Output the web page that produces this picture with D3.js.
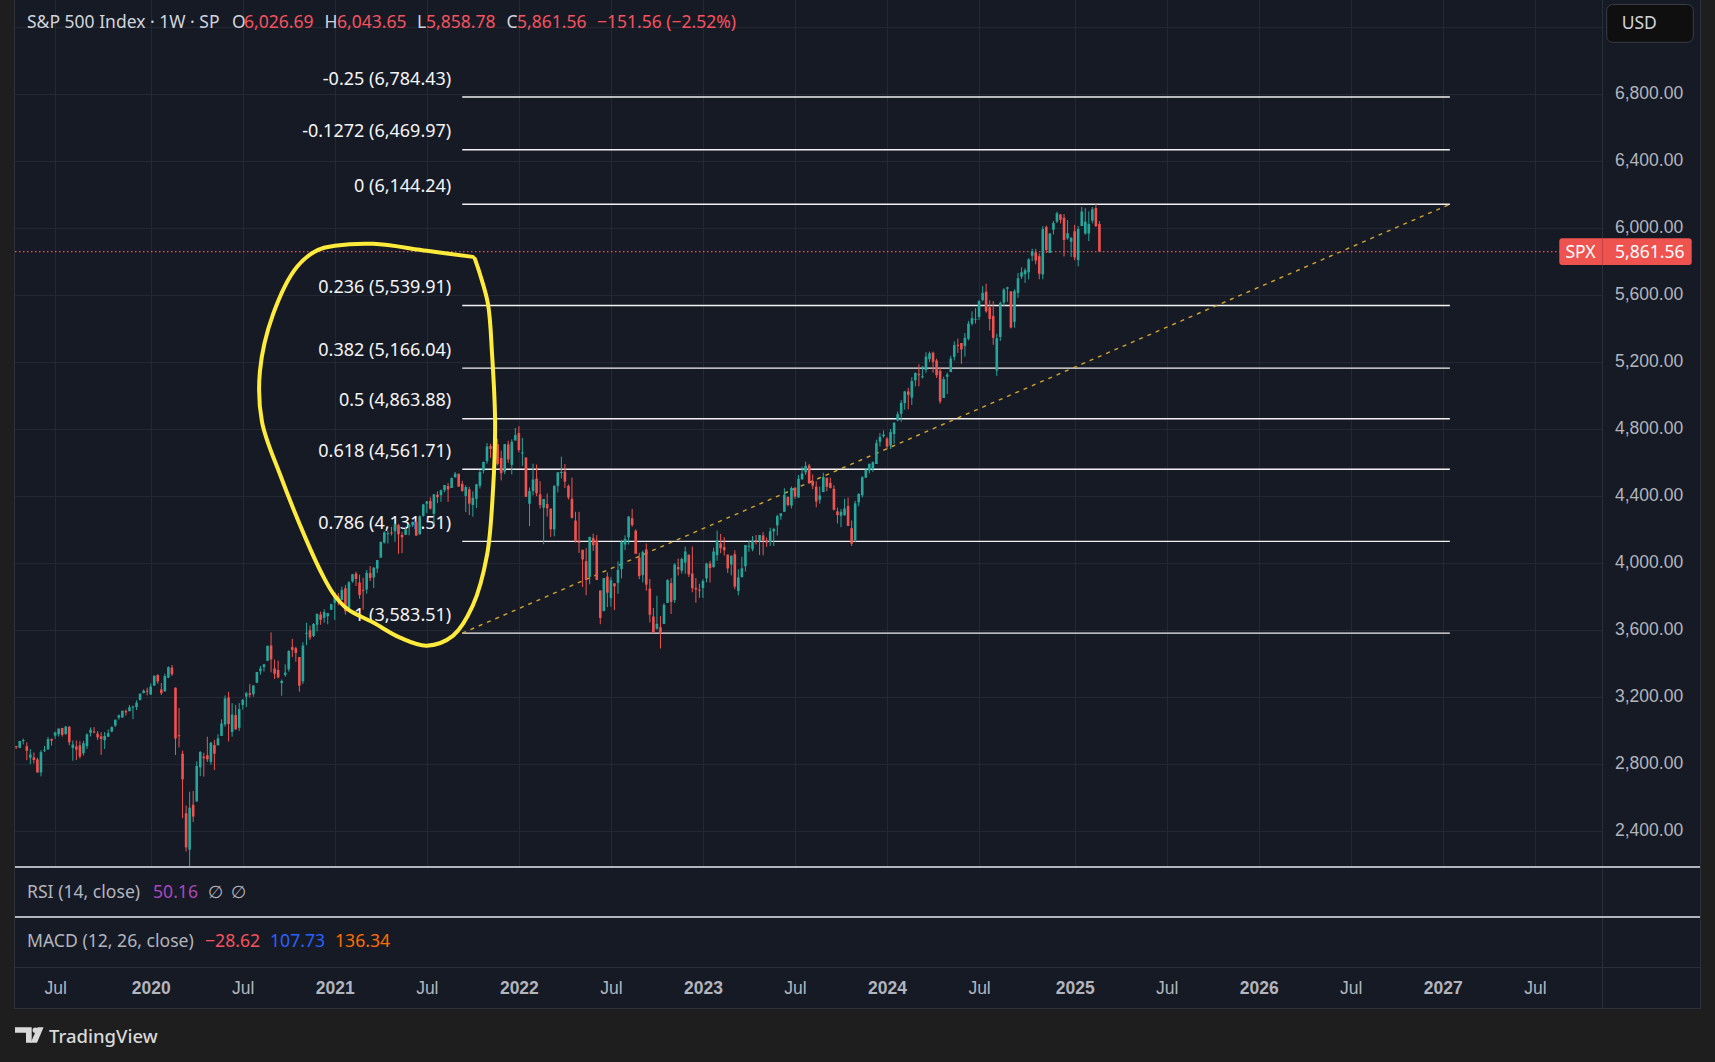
<!DOCTYPE html>
<html lang="en">

<head>
    <meta charset="UTF-8">
    <title>S&amp;P 500 Index · 1W · SP</title>
    <script src="https://d3js.org/d3.v7.min.js"></script>
    <style>
        body {
            margin: 0;
            background-color: #1e1e1e;
            overflow: hidden;
        }

        svg {
            display: block;
            font-family: "Noto Sans", "DejaVu Sans", sans-serif;
        }

        .axis text {
            fill: #b2b5be;
            font-size: 17.5px;
        }

        .axis .domain,
        .axis line {
            display: none;
        }

        .year {
            font-weight: 600;
        }

        .legend {
            font-size: 17.6px;
            fill: #b2b5be;
        }

        .head {
            font-size: 17.5px;
        }

        .fib-label {
            font-size: 18px;
            fill: #f5f5f5;
        }
    </style>
</head>

<body>
    <svg id="chart" width="1715" height="1062"></svg>

    <script>
        // Weekly candles, one row per week: [open, high, low, close]
        const firstWeek = "2019-04-15";

        const ohlc2019 = [
            [2908.3, 2910.5, 2891.9, 2905.03], [2898.8, 2936.3, 2896.4, 2939.88], [2940.6, 2954.1, 2919.4, 2945.64],
            [2908.9, 2931.7, 2825.4, 2881.40], [2840.2, 2891.3, 2801.4, 2859.53], [2841.9, 2871.6, 2805.5, 2826.06],
            [2830.0, 2840.5, 2750.5, 2752.06], [2751.5, 2884.9, 2728.8, 2873.34], [2885.8, 2910.6, 2873.9, 2886.98],
            [2889.8, 2964.2, 2887.3, 2950.46], [2951.4, 2954.9, 2912.3, 2941.76], [2971.4, 2995.8, 2952.2, 2990.41],
            [2980.8, 3013.9, 2966.4, 3013.77], [3017.8, 3017.8, 2966.0, 2976.61], [2981.9, 3028.0, 2976.7, 3025.86],
            [3024.5, 3029.4, 2914.1, 2932.05], [2898.1, 2943.3, 2822.1, 2918.65], [2907.1, 2943.3, 2825.7, 2888.68],
            [2913.5, 2939.1, 2835.0, 2847.11], [2866.7, 2940.4, 2853.1, 2926.46], [2909.0, 2985.9, 2891.9, 2978.71],
            [2988.4, 3021.0, 2966.9, 3007.39], [2996.4, 3022.7, 2985.9, 2992.07], [2983.5, 2999.2, 2945.5, 2961.79],
            [2967.1, 2992.5, 2855.9, 2952.01], [2944.2, 2993.3, 2892.6, 2970.27], [2965.8, 3008.3, 2962.9, 2986.20],
            [2996.5, 3027.4, 2991.2, 3022.55], [3032.1, 3066.9, 3023.2, 3066.91], [3079.0, 3097.8, 3066.9, 3093.08],
            [3080.3, 3120.5, 3078.3, 3120.46], [3117.9, 3127.6, 3091.4, 3110.29], [3117.4, 3154.3, 3117.4, 3140.98],
            [3143.9, 3150.6, 3070.3, 3145.91], [3141.9, 3182.7, 3124.0, 3168.80], [3183.6, 3225.6, 3183.6, 3221.22],
            [3226.1, 3247.9, 3223.3, 3240.02], [3240.1, 3258.1, 3212.0, 3234.85]
        ];

        const ohlc2020 = [
            [3217.6, 3283.0, 3214.6, 3265.35], [3271.1, 3329.9, 3268.4, 3329.62], [3333.1, 3337.8, 3281.5, 3295.47],
            [3247.2, 3285.9, 3214.6, 3225.52], [3235.7, 3341.4, 3235.7, 3327.71], [3318.3, 3385.1, 3315.2, 3380.16],
            [3378.1, 3393.5, 3328.5, 3337.75], [3257.6, 3259.8, 2855.8, 2954.22], [2974.3, 3136.7, 2901.5, 2972.37],
            [2863.9, 2882.6, 2478.9, 2711.02], [2508.6, 2553.9, 2280.5, 2304.92], [2291.0, 2637.0, 2191.9, 2541.47],
            [2559.0, 2641.4, 2455.8, 2488.65], [2578.3, 2818.6, 2578.3, 2789.82], [2782.5, 2879.2, 2729.6, 2874.56],
            [2845.6, 2869.0, 2727.1, 2836.74], [2854.7, 2965.0, 2815.0, 2830.71], [2815.0, 2934.3, 2797.9, 2929.80],
            [2915.5, 2945.8, 2766.6, 2863.70], [2913.9, 2980.3, 2913.9, 2955.45], [2970.0, 3068.7, 2970.0, 3044.31],
            [3038.8, 3211.7, 3025.8, 3193.93], [3199.9, 3233.1, 2936.9, 3041.31], [2993.8, 3165.8, 2965.7, 3097.74],
            [3094.4, 3155.5, 3007.4, 3009.05], [3018.6, 3165.8, 2999.5, 3130.01], [3155.3, 3190.8, 3127.7, 3185.04],
            [3205.1, 3233.5, 3141.9, 3224.73], [3224.3, 3279.3, 3200.1, 3215.63], [3219.8, 3272.0, 3204.1, 3271.12],
            [3288.3, 3352.5, 3284.5, 3351.28], [3356.0, 3387.9, 3335.5, 3372.85], [3380.9, 3400.0, 3354.7, 3397.16],
            [3418.1, 3509.2, 3418.1, 3508.01], [3509.7, 3588.1, 3349.6, 3426.96], [3371.9, 3425.6, 3310.0, 3340.97],
            [3363.6, 3419.5, 3313.6, 3319.47], [3285.6, 3306.9, 3209.5, 3298.46], [3333.9, 3397.2, 3323.7, 3348.44],
            [3367.3, 3482.3, 3354.5, 3477.13], [3500.0, 3549.9, 3440.5, 3483.81], [3493.5, 3502.4, 3413.0, 3465.39],
            [3441.4, 3441.4, 3233.9, 3269.96], [3296.2, 3529.0, 3279.7, 3509.44], [3583.0, 3646.0, 3511.9, 3585.15],
            [3600.2, 3628.5, 3543.8, 3557.54], [3566.8, 3644.3, 3559.9, 3638.35], [3634.2, 3699.2, 3594.4, 3699.12],
            [3694.7, 3712.4, 3633.4, 3663.46], [3675.3, 3726.7, 3645.8, 3709.41], [3684.3, 3702.9, 3636.5, 3703.06],
            [3723.0, 3760.2, 3723.0, 3756.07]
        ];

        const ohlc2021 = [
            [3764.6, 3826.7, 3662.7, 3824.68], [3803.1, 3823.6, 3749.6, 3768.25], [3781.9, 3861.5, 3781.9, 3841.47],
            [3851.7, 3870.9, 3694.1, 3714.24], [3731.2, 3894.6, 3725.6, 3886.83], [3892.6, 3937.0, 3884.9, 3934.83],
            [3939.6, 3950.4, 3865.7, 3906.71], [3885.6, 3933.2, 3789.5, 3811.15], [3842.5, 3914.5, 3723.3, 3841.94],
            [3844.4, 3960.3, 3819.3, 3943.34], [3943.0, 3983.9, 3894.9, 3913.10], [3916.5, 3978.2, 3853.5, 3974.54],
            [3969.3, 4020.6, 3943.6, 4019.87], [4034.4, 4129.5, 4034.4, 4128.80], [4124.7, 4191.3, 4118.4, 4185.47],
            [4179.8, 4194.2, 4118.4, 4180.17], [4185.0, 4218.8, 4166.8, 4181.17], [4192.0, 4238.0, 4128.6, 4232.60],
            [4228.3, 4236.4, 4056.9, 4173.85], [4169.9, 4188.7, 4061.4, 4155.86], [4170.2, 4218.4, 4170.2, 4204.11],
            [4216.5, 4234.1, 4167.6, 4229.89], [4229.3, 4249.7, 4217.0, 4247.44], [4248.3, 4261.1, 4164.4, 4166.45],
            [4173.4, 4286.1, 4173.4, 4280.70], [4284.9, 4355.4, 4278.8, 4352.34], [4356.5, 4372.9, 4300.7, 4369.55],
            [4372.4, 4393.7, 4321.1, 4327.16], [4296.4, 4415.2, 4233.1, 4411.79], [4409.6, 4430.0, 4360.0, 4395.26],
            [4406.9, 4440.8, 4367.7, 4436.52], [4437.8, 4468.0, 4424.7, 4468.00], [4461.7, 4480.3, 4367.7, 4441.67],
            [4450.3, 4513.3, 4450.3, 4509.37], [4513.8, 4545.9, 4513.8, 4535.43], [4535.4, 4535.4, 4457.7, 4458.58],
            [4474.8, 4492.8, 4427.8, 4432.99], [4403.0, 4465.4, 4305.9, 4455.48], [4442.1, 4457.3, 4288.5, 4357.04],
            [4348.8, 4430.0, 4278.9, 4391.34], [4385.4, 4475.8, 4329.9, 4471.37], [4463.7, 4559.7, 4447.5, 4544.90],
            [4553.7, 4608.1, 4537.4, 4605.38], [4610.6, 4718.5, 4595.1, 4697.53], [4701.5, 4714.9, 4630.9, 4682.85],
            [4689.3, 4717.7, 4672.8, 4697.96], [4712.0, 4743.8, 4585.4, 4594.62], [4628.8, 4673.0, 4495.1, 4538.43],
            [4548.4, 4713.6, 4532.4, 4712.02], [4710.3, 4732.0, 4600.2, 4620.64], [4587.9, 4740.7, 4531.1, 4725.79],
            [4734.0, 4808.9, 4734.0, 4766.18]
        ];

        const ohlc2022 = [
            [4778.1, 4818.6, 4662.7, 4677.03], [4655.3, 4749.0, 4582.2, 4662.85], [4632.2, 4632.2, 4395.3, 4397.94],
            [4356.3, 4453.2, 4222.6, 4431.85], [4431.8, 4595.3, 4405.8, 4500.53], [4505.8, 4590.0, 4401.4, 4418.64],
            [4412.6, 4490.4, 4327.2, 4348.87], [4332.7, 4385.0, 4114.7, 4384.65], [4354.2, 4416.8, 4279.5, 4328.87],
            [4327.0, 4327.0, 4157.9, 4204.31], [4202.8, 4465.4, 4161.7, 4463.12], [4462.4, 4546.0, 4424.3, 4543.06],
            [4541.1, 4637.3, 4507.6, 4545.86], [4548.0, 4593.5, 4450.3, 4488.28], [4462.6, 4471.0, 4381.3, 4392.59],
            [4385.6, 4512.9, 4267.6, 4271.78], [4255.3, 4308.5, 4124.3, 4131.93], [4130.6, 4307.7, 4062.5, 4123.34],
            [4081.3, 4081.3, 3858.9, 4023.89], [4013.0, 4090.7, 3810.3, 3901.36], [3919.4, 4158.5, 3875.1, 4158.24],
            [4151.1, 4177.5, 4074.4, 4108.54], [4134.7, 4168.8, 3900.2, 3900.86], [3838.2, 3838.2, 3636.9, 3674.84],
            [3715.3, 3913.7, 3715.3, 3911.74], [3920.8, 3945.9, 3738.7, 3825.33], [3792.6, 3918.5, 3742.1, 3899.38],
            [3880.9, 3880.9, 3721.6, 3863.16], [3883.8, 4012.4, 3818.6, 3961.63], [3965.7, 4140.2, 3910.7, 4130.29],
            [4112.4, 4167.7, 4079.8, 4145.19], [4155.9, 4280.5, 4112.1, 4280.15], [4269.4, 4325.3, 4218.7, 4228.48],
            [4195.1, 4203.0, 4057.4, 4057.66], [4034.6, 4063.0, 3906.0, 3924.26], [3930.9, 4076.8, 3886.8, 4067.36],
            [4083.7, 4119.3, 3837.1, 3873.33], [3849.9, 3907.1, 3647.5, 3693.23], [3682.7, 3733.3, 3584.1, 3585.62],
            [3609.8, 3806.9, 3604.9, 3639.66], [3619.2, 3685.4, 3491.6, 3583.07], [3638.7, 3762.8, 3638.7, 3752.75],
            [3764.1, 3905.4, 3764.1, 3901.06], [3881.9, 3911.8, 3698.2, 3770.55], [3780.7, 4001.5, 3764.5, 3992.93],
            [3978.0, 4028.8, 3928.4, 3965.34], [3956.2, 4034.0, 3938.7, 4026.12], [4005.4, 4100.5, 3938.6, 4071.70],
            [4052.0, 4052.5, 3918.4, 3934.38], [3939.3, 4101.0, 3827.9, 3852.36], [3853.8, 3912.6, 3764.5, 3844.82],
            [3843.3, 3878.4, 3794.3, 3839.50]
        ];

        const ohlc2023 = [
            [3853.3, 3906.0, 3794.3, 3895.08], [3910.8, 4004.0, 3887.6, 3999.09], [3999.3, 4015.4, 3885.5, 3972.61],
            [3978.1, 4094.2, 3973.6, 4070.56], [4049.3, 4195.4, 4015.6, 4136.48], [4119.6, 4176.5, 4060.8, 4090.46],
            [4096.6, 4156.0, 4047.0, 4079.09], [4052.4, 4052.4, 3943.1, 3970.04], [3992.4, 4048.3, 3928.2, 4045.64],
            [4055.2, 4078.5, 3846.3, 3861.59], [3835.1, 3964.5, 3808.9, 3916.64], [3917.5, 4039.5, 3917.5, 3970.99],
            [3982.9, 4110.8, 3951.5, 4109.31], [4102.2, 4133.1, 4069.8, 4105.02], [4085.2, 4163.2, 4072.5, 4137.64],
            [4137.2, 4169.5, 4113.2, 4133.52], [4132.1, 4170.1, 4049.4, 4169.48], [4166.8, 4186.9, 4048.3, 4136.25],
            [4137.0, 4154.3, 4098.9, 4124.08], [4126.6, 4212.9, 4104.0, 4191.98], [4190.8, 4212.2, 4104.0, 4205.45],
            [4226.7, 4290.7, 4166.2, 4282.37], [4283.0, 4298.0, 4260.2, 4298.86], [4308.3, 4448.5, 4308.3, 4409.59],
            [4396.1, 4400.2, 4341.3, 4348.33], [4344.8, 4458.5, 4328.1, 4450.38], [4450.5, 4456.5, 4385.1, 4398.95],
            [4394.2, 4527.8, 4389.9, 4505.42], [4502.4, 4578.4, 4498.6, 4536.34], [4543.4, 4607.1, 4528.6, 4582.23],
            [4584.8, 4594.2, 4474.6, 4478.03], [4491.6, 4531.0, 4443.2, 4464.05], [4458.1, 4490.3, 4335.3, 4369.71],
            [4380.3, 4458.3, 4356.3, 4405.71], [4426.0, 4541.3, 4426.0, 4515.77], [4510.1, 4514.3, 4430.5, 4457.49],
            [4481.0, 4512.0, 4447.2, 4450.32], [4445.4, 4466.4, 4316.5, 4320.06], [4310.6, 4333.2, 4238.6, 4288.05],
            [4284.5, 4324.1, 4216.5, 4308.50], [4289.0, 4385.5, 4283.8, 4327.78], [4342.4, 4393.6, 4223.0, 4224.16],
            [4210.4, 4255.8, 4103.8, 4117.37], [4139.4, 4374.0, 4126.3, 4358.34], [4364.3, 4418.0, 4341.3, 4415.24],
            [4406.7, 4521.2, 4393.4, 4514.02], [4511.7, 4568.4, 4510.4, 4559.34], [4554.9, 4595.1, 4537.2, 4594.63],
            [4564.4, 4609.2, 4546.5, 4604.37], [4593.4, 4738.6, 4593.4, 4719.19], [4725.6, 4778.0, 4697.8, 4754.63],
            [4758.9, 4793.3, 4751.0, 4769.83]
        ];

        const ohlc2024 = [
            [4745.2, 4754.3, 4682.1, 4697.24], [4703.7, 4802.4, 4682.8, 4783.83], [4772.4, 4842.1, 4714.8, 4839.81],
            [4853.4, 4906.7, 4848.7, 4890.97], [4893.0, 4975.3, 4845.2, 4958.61], [4957.2, 5030.1, 4918.1, 5026.61],
            [5026.8, 5048.4, 4920.3, 5005.57], [4989.3, 5111.1, 4946.0, 5088.80], [5093.0, 5140.3, 5057.3, 5137.08],
            [5131.0, 5189.3, 5057.2, 5123.69], [5112.0, 5179.1, 5104.4, 5117.09], [5154.8, 5261.1, 5138.7, 5234.18],
            [5219.5, 5264.9, 5203.4, 5254.35], [5258.0, 5264.0, 5138.7, 5204.34], [5211.4, 5222.2, 5107.9, 5123.41],
            [5149.7, 5168.4, 4953.6, 4967.23], [4987.3, 5114.6, 4987.3, 5099.96], [5114.1, 5139.1, 5011.1, 5127.79],
            [5142.4, 5239.7, 5142.4, 5222.68], [5233.1, 5325.5, 5211.2, 5303.27], [5305.4, 5341.9, 5256.9, 5304.72],
            [5315.9, 5315.9, 5191.7, 5277.51], [5297.2, 5375.1, 5234.3, 5346.99], [5341.2, 5447.3, 5331.5, 5431.60],
            [5431.1, 5505.5, 5420.6, 5464.62], [5459.6, 5523.6, 5432.2, 5460.48], [5471.1, 5570.3, 5452.7, 5567.19],
            [5572.8, 5655.6, 5563.7, 5615.35], [5621.9, 5669.7, 5497.0, 5505.00], [5528.9, 5570.7, 5391.0, 5459.10],
            [5476.6, 5566.2, 5305.1, 5346.56], [5151.1, 5370.7, 5119.3, 5344.16], [5351.9, 5563.1, 5327.9, 5554.25],
            [5557.2, 5643.2, 5535.5, 5634.61], [5639.7, 5651.6, 5561.0, 5648.40], [5623.9, 5623.9, 5402.6, 5408.42],
            [5442.1, 5636.3, 5407.0, 5626.02], [5615.2, 5733.6, 5585.4, 5702.55], [5711.9, 5767.4, 5698.4, 5738.17],
            [5726.5, 5762.4, 5674.0, 5751.07], [5737.8, 5822.1, 5695.7, 5815.03], [5836.6, 5878.5, 5804.5, 5864.67],
            [5857.8, 5878.0, 5784.9, 5808.12], [5833.9, 5850.9, 5696.5, 5728.80], [5725.2, 6012.5, 5696.5, 5995.54],
            [6008.9, 6017.3, 5853.0, 5870.62], [5853.0, 5972.9, 5853.0, 5969.34], [5992.3, 6044.2, 5963.9, 6032.38],
            [6040.1, 6100.0, 6031.6, 6090.27], [6083.0, 6085.2, 6029.9, 6051.09], [6063.8, 6085.2, 5832.3, 5930.85],
            [5940.3, 6049.8, 5932.9, 5970.84], [5920.7, 5949.3, 5829.5, 5942.47]
        ];

        const ohlc2025 = [
            [5982.8, 6021.0, 5809.6, 5827.04], [5811.3, 6014.0, 5773.3, 5996.66], [6014.1, 6128.2, 6014.1, 6101.24],
            [5969.0, 6120.9, 5962.9, 6040.53], [5969.7, 6101.3, 5923.9, 6025.99], [6046.4, 6127.5, 6029.9, 6114.63],
            [6121.6, 6147.4, 6008.6, 6013.13], [6026.69, 6043.65, 5858.78, 5861.56]
        ];

        // Price axis and time axis labels
        const priceTicks = [2400, 2800, 3200, 3600, 4000, 4400, 4800, 5200, 5600, 6000, 6400, 6800];
        const gridPrices = [2400, 2800, 3200, 3600, 4000, 4400, 4800, 5200, 5600, 6000, 6400, 6800, 7200];
        const timeTicks = [
            ["2019-07", "Jul"], ["2020-01", "2020"], ["2020-07", "Jul"], ["2021-01", "2021"], ["2021-07", "Jul"],
            ["2022-01", "2022"], ["2022-07", "Jul"], ["2023-01", "2023"], ["2023-07", "Jul"], ["2024-01", "2024"],
            ["2024-07", "Jul"], ["2025-01", "2025"], ["2025-07", "Jul"], ["2026-01", "2026"], ["2026-07", "Jul"],
            ["2027-01", "2027"], ["2027-07", "Jul"]
        ];

        // Fibonacci retracement drawn from the 2022 low to the projected top
        const fibLevels = ["-0.25", "-0.1272", "0", "0.236", "0.382", "0.5", "0.618", "0.786", "1"];
        const fibPrices = [6784.43, 6469.97, 6144.24, 5539.91, 5166.04, 4863.88, 4561.71, 4131.51, 3583.51];
        const fibFrom = ["2021-09-13", 3583.51];
        const fibTo = ["2027-01-18", 6144.24];

        // Hand-drawn yellow loop, in [date, price]
        const loopMarks = [
            ["2021-10-04", 5830], ["2021-07-05", 5866], ["2021-03-21", 5908], ["2021-01-04", 5896],
            ["2020-12-02", 5872], ["2020-10-21", 5770], ["2020-09-04", 5488], ["2020-08-09", 5147],
            ["2020-08-13", 4847], ["2020-09-18", 4529], ["2020-11-08", 4145], ["2020-12-10", 3935],
            ["2021-01-02", 3815], ["2021-01-30", 3725], ["2021-03-21", 3647], ["2021-05-13", 3557],
            ["2021-07-05", 3509], ["2021-08-26", 3569], ["2021-10-04", 3749], ["2021-11-01", 4049],
            ["2021-11-13", 4445], ["2021-11-17", 4847], ["2021-11-11", 5249], ["2021-11-03", 5548],
            ["2021-10-18", 5728], ["2021-10-08", 5818]
        ];

        const lastPrice = 5861.56;

        // ---------------------------------------------------------------

        const parseDay = d3.utcParse("%Y-%m-%d");
        const parseMonth = d3.utcParse("%Y-%m");

        const rows = [].concat(ohlc2019, ohlc2020, ohlc2021, ohlc2022, ohlc2023, ohlc2024, ohlc2025);
        const start = parseDay(firstWeek);
        const candles = rows.map((r, i) => ({
            date: d3.utcMonday.offset(start, i),
            open: r[0], high: r[1], low: r[2], close: r[3]
        }));

        const svg = d3.select("#chart");

        const pane = { left: 15, right: 1602, top: 0, bottom: 867 },
            frameRight = 1700,
            frameBottom = 1008,
            rsiTop = 867,
            macdTop = 917,
            timeTop = 967;

        const up = "#26a69a", down = "#ef5350";

        // Weekly bars are evenly spaced; one bar = 3.54px
        const x = d3.scaleUtc()
            .domain([Date.UTC(2020, 0, 6), Date.UTC(2027, 0, 18)])
            .range([150.7, 1449.9]);

        const y = d3.scaleLinear()
            .domain([2187.5, 7363.6])
            .range([pane.bottom, pane.top]);

        // Chart background
        svg.append("rect")
            .attr("x", pane.left).attr("y", 0)
            .attr("width", frameRight - pane.left).attr("height", frameBottom)
            .attr("fill", "#161a25");

        svg.append("defs").append("clipPath").attr("id", "paneClip")
            .append("rect")
            .attr("x", pane.left).attr("y", pane.top)
            .attr("width", pane.right - pane.left).attr("height", pane.bottom - pane.top);

        // Grid
        const grid = svg.append("g").attr("stroke", "#242835").attr("stroke-width", 1);
        grid.selectAll(".hgrid")
            .data(gridPrices)
            .enter().append("line")
            .attr("x1", pane.left).attr("x2", pane.right)
            .attr("y1", d => Math.round(y(d)) + 0.5).attr("y2", d => Math.round(y(d)) + 0.5);

        const tickDates = timeTicks.map(t => d3.utcMonday.ceil(parseMonth(t[0])));
        grid.selectAll(".vgrid")
            .data(tickDates)
            .enter().append("line")
            .attr("x1", d => Math.round(x(d)) + 0.5).attr("x2", d => Math.round(x(d)) + 0.5)
            .attr("y1", pane.top).attr("y2", pane.bottom);

        const plot = svg.append("g").attr("clip-path", "url(#paneClip)");

        // Fibonacci levels
        const fibX1 = x(parseDay(fibFrom[0])), fibX2 = x(parseDay(fibTo[0]));
        plot.append("g")
            .selectAll("line")
            .data(fibPrices)
            .enter().append("line")
            .attr("x1", fibX1).attr("x2", fibX2)
            .attr("y1", d => y(d)).attr("y2", d => y(d))
            .attr("stroke", "#f2f2f2")
            .attr("stroke-width", 1.4);

        plot.append("line")
            .attr("x1", fibX1).attr("y1", y(fibFrom[1]))
            .attr("x2", fibX2).attr("y2", y(fibTo[1]))
            .attr("stroke", "#d2a62e")
            .attr("stroke-width", 1.4)
            .attr("stroke-dasharray", "4,5");

        plot.append("g")
            .selectAll("text")
            .data(fibPrices)
            .enter().append("text")
            .attr("class", "fib-label")
            .attr("x", fibX1 - 11)
            .attr("y", d => y(d) - 12.5)
            .attr("text-anchor", "end")
            .text((d, i) => `${fibLevels[i]} (${d3.format(",.2f")(d)})`);

        // Last price line
        plot.append("line")
            .attr("x1", pane.left).attr("x2", pane.right)
            .attr("y1", y(lastPrice)).attr("y2", y(lastPrice))
            .attr("stroke", "#ef5350")
            .attr("stroke-width", 1.2)
            .attr("stroke-dasharray", "1.5,2.5");

        // Candles
        const bodyW = 2.6;
        const bars = plot.append("g")
            .selectAll("g")
            .data(candles)
            .enter().append("g")
            .attr("fill", d => d.close >= d.open ? up : down)
            .attr("stroke", d => d.close >= d.open ? up : down);

        bars.append("line")
            .attr("x1", d => x(d.date)).attr("x2", d => x(d.date))
            .attr("y1", d => y(d.high)).attr("y2", d => y(d.low))
            .attr("stroke-width", 1);

        bars.append("rect")
            .attr("x", d => x(d.date) - bodyW / 2)
            .attr("width", bodyW)
            .attr("y", d => y(Math.max(d.open, d.close)))
            .attr("height", d => Math.max(1, Math.abs(y(d.open) - y(d.close))))
            .attr("stroke", "none");

        // Yellow loop annotation
        plot.append("path")
            .datum(loopMarks)
            .attr("d", d3.line()
                .x(d => x(parseDay(d[0])))
                .y(d => y(d[1]))
                .curve(d3.curveCatmullRom.alpha(0.5)))
            .attr("fill", "none")
            .attr("stroke", "#ffeb3b")
            .attr("stroke-width", 4)
            .attr("stroke-linecap", "round")
            .attr("stroke-linejoin", "round");

        // Pane separators and borders
        svg.append("line")
            .attr("x1", pane.right + 0.5).attr("x2", pane.right + 0.5)
            .attr("y1", 0).attr("y2", frameBottom)
            .attr("stroke", "#2a2e39");
        svg.append("line")
            .attr("x1", pane.left).attr("x2", frameRight)
            .attr("y1", timeTop + 0.5).attr("y2", timeTop + 0.5)
            .attr("stroke", "#2a2e39");
        [rsiTop, macdTop].forEach(t => {
            svg.append("line")
                .attr("x1", pane.left).attr("x2", frameRight)
                .attr("y1", t).attr("y2", t)
                .attr("stroke", "#e6e8ee")
                .attr("stroke-width", 1.5);
        });
        svg.append("rect")
            .attr("x", pane.left - 0.5).attr("y", -1)
            .attr("width", frameRight - pane.left + 1).attr("height", frameBottom + 1.5)
            .attr("fill", "none")
            .attr("stroke", "#2e313a");

        // Price axis
        svg.append("g")
            .attr("class", "axis")
            .attr("transform", `translate(${pane.right},0)`)
            .call(d3.axisRight(y)
                .tickValues(priceTicks)
                .tickFormat(d3.format(",.2f"))
                .tickSize(0)
                .tickPadding(13))
            .selectAll("text")
            .attr("y", -2);

        // Time axis
        svg.append("g")
            .attr("class", "axis")
            .attr("transform", `translate(0,${timeTop})`)
            .call(d3.axisBottom(x)
                .tickValues(tickDates)
                .tickFormat((d, i) => timeTicks[i][1])
                .tickSize(0)
                .tickPadding(15))
            .selectAll("text")
            .classed("year", (d, i) => timeTicks[i][1] !== "Jul");

        // Last price tag
        const tagY = y(lastPrice);
        svg.append("rect")
            .attr("x", 1559.3).attr("y", tagY - 13.4)
            .attr("width", 132.4).attr("height", 26.8)
            .attr("rx", 3)
            .attr("fill", "#ef5350");
        svg.append("line")
            .attr("x1", pane.right + 0.5).attr("x2", pane.right + 0.5)
            .attr("y1", tagY - 13.4).attr("y2", tagY + 13.4)
            .attr("stroke", "#c63f3f");
        svg.append("text")
            .attr("x", 1580.5).attr("y", tagY + 6.3)
            .attr("text-anchor", "middle")
            .attr("fill", "#ffffff")
            .style("font-size", "17.5px")
            .text("SPX");
        svg.append("text")
            .attr("x", 1615).attr("y", tagY + 6.3)
            .attr("fill", "#ffffff")
            .style("font-size", "17.5px")
            .text(d3.format(",.2f")(lastPrice));

        // Currency button
        svg.append("rect")
            .attr("x", 1606.7).attr("y", 4.5)
            .attr("width", 86.6).attr("height", 37.8)
            .attr("rx", 6)
            .attr("fill", "#0f0f10")
            .attr("stroke", "#3a3d46");
        svg.append("text")
            .attr("x", 1621.7).attr("y", 29)
            .attr("fill", "#d1d4dc")
            .style("font-size", "17.5px")
            .text("USD");

        // Header legend
        const head = svg.append("g").attr("class", "legend head");
        const red = "#f7525f";
        const headParts = [
            [27, "S&P 500 Index · 1W · SP", "#d1d4dc"],
            [232, "O", "#d1d4dc"], [244, "6,026.69", red],
            [324.5, "H", "#d1d4dc"], [337, "6,043.65", red],
            [417, "L", "#d1d4dc"], [426, "5,858.78", red],
            [506.6, "C", "#d1d4dc"], [517, "5,861.56", red],
            [597, "−151.56 (−2.52%)", red]
        ];
        head.selectAll("text")
            .data(headParts)
            .enter().append("text")
            .attr("x", d => d[0]).attr("y", 27.7)
            .attr("fill", d => d[2])
            .text(d => d[1]);

        // Indicator pane legends
        const paneParts = [
            [27, 897.7, "RSI (14, close)", "#b2b5be"], [153, 897.7, "50.16", "#ab47bc"],
            [208, 897.7, "∅", "#b2b5be"], [231, 897.7, "∅", "#b2b5be"],
            [27, 946.7, "MACD (12, 26, close)", "#b2b5be"], [205, 946.7, "−28.62", "#f7525f"],
            [270, 946.7, "107.73", "#2962ff"], [335, 946.7, "136.34", "#ff6d00"]
        ];
        svg.append("g").attr("class", "legend")
            .selectAll("text")
            .data(paneParts)
            .enter().append("text")
            .attr("x", d => d[0]).attr("y", d => d[1])
            .attr("fill", d => d[3])
            .text(d => d[2]);

        // TradingView watermark
        const logo = svg.append("g").attr("fill", "#d9d9d9");
        logo.append("path").attr("d", "M15,1027.3 H31.7 V1042.7 H26 V1032.7 H15 Z");
        logo.append("circle").attr("cx", 35.3).attr("cy", 1030.3).attr("r", 2.7);
        logo.append("path").attr("d", "M37.6,1027.3 H43.6 L37,1042.7 H30.6 Z");
        logo.append("text")
            .attr("x", 49).attr("y", 1042.5)
            .style("font-size", "18.5px")
            .style("font-weight", "500")
            .attr("fill", "#d9d9d9")
            .text("TradingView");
    </script>
</body>

</html>
